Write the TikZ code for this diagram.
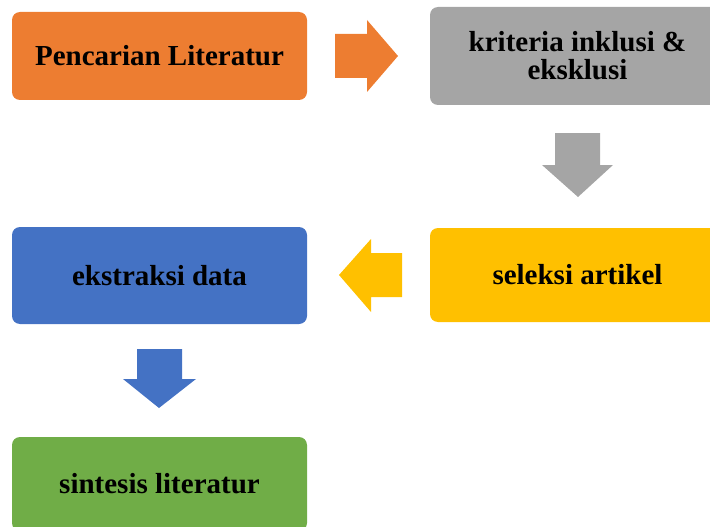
\documentclass[tikz,border=0pt]{standalone}
\usepackage{fontspec}
\setmainfont{Liberation Serif}
\definecolor{cOrange}{HTML}{ED7D31}
\definecolor{cGray}{HTML}{A5A5A5}
\definecolor{cYellow}{HTML}{FFC000}
\definecolor{cBlue}{HTML}{4472C4}
\definecolor{cGreen}{HTML}{70AD47}
\tikzset{
  stepbox/.style={rounded corners=8pt, inner sep=0pt, minimum width=295pt,
    align=center, font=\bfseries\fontsize{29}{28}\selectfont, text=black},
  blockarrow/.style={draw=none}
}
\begin{document}
\begin{tikzpicture}[x=1pt,y=-1pt]
\useasboundingbox (0,0) rectangle (710,527);
\begin{scope}
\clip (0,0) rectangle (710,527);
\node[stepbox, fill=cOrange, minimum height=88pt] (lit) at (159.5,56) {Pencarian Literatur};
\node[stepbox, fill=cGray, minimum height=98pt] (krit) at (577.5,56) {kriteria inklusi \&\\eksklusi};
\node[stepbox, fill=cYellow, minimum height=94pt] (sel) at (577.5,275) {seleksi artikel};
\node[stepbox, fill=cBlue, minimum height=97pt] (eks) at (159.5,275.5) {ekstraksi data};
\node[stepbox, fill=cGreen, minimum height=94pt] (sin) at (159.5,484) {sintesis literatur};
\end{scope}
% block arrows
\fill[cOrange] (335,34) -- (367,34) -- (367,20) -- (398,56) -- (367,92) -- (367,78) -- (335,78) -- cycle;
\fill[cGray] (555,133) -- (600,133) -- (600,165) -- (613,165) -- (578,197) -- (542,165) -- (555,165) -- cycle;
\fill[cYellow] (402,253) -- (371,253) -- (371,239) -- (339,275) -- (371,312) -- (371,297) -- (402,297) -- cycle;
\fill[cBlue] (137,349) -- (182,349) -- (182,379) -- (196,379) -- (159,408) -- (123,379) -- (137,379) -- cycle;
\end{tikzpicture}
\end{document}
